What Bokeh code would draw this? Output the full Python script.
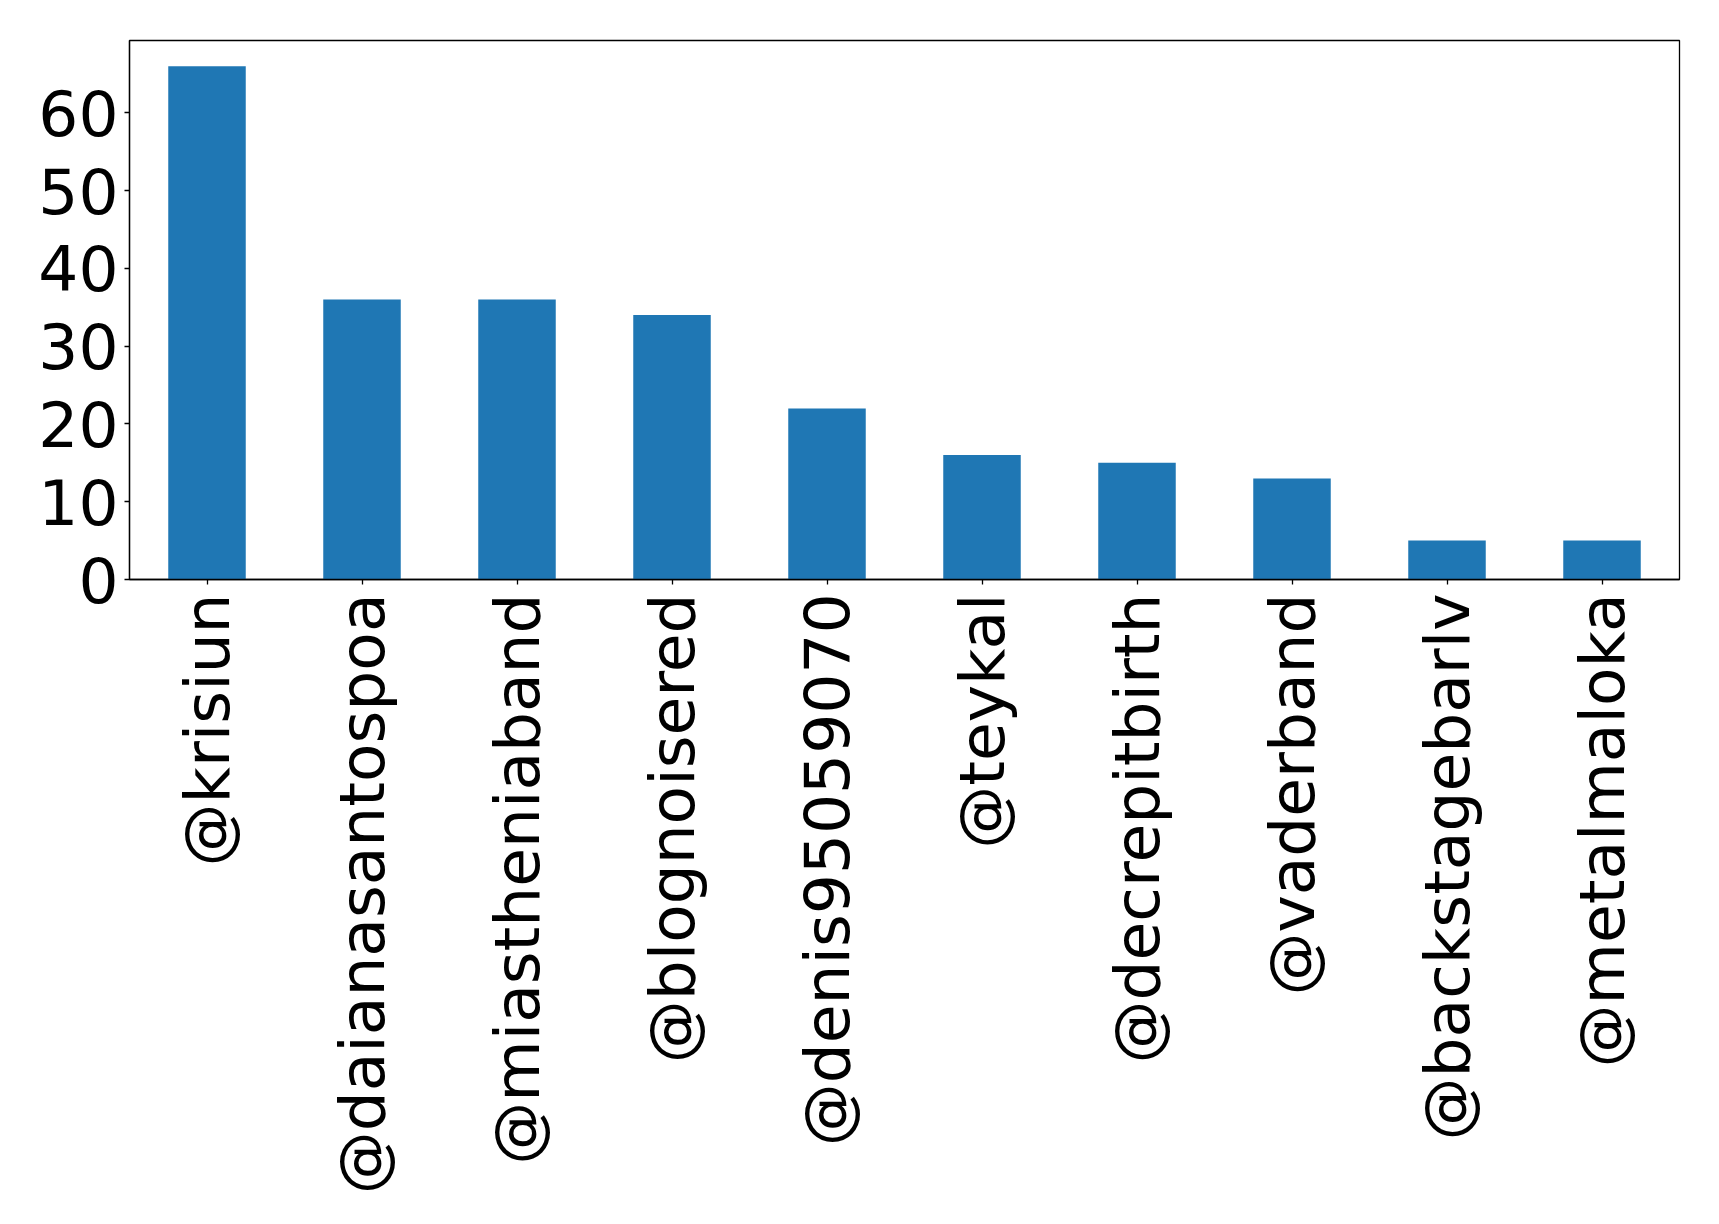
import math
from bokeh.plotting import figure
from bokeh.models import Range1d, FactorRange, SingleIntervalTicker, ColumnDataSource
from bokeh.embed import file_html
from bokeh.resources import INLINE

users = ["@krisiun", "@daianasantospoa", "@miastheniaband", "@blognoisered",
         "@denis95059070", "@teykal", "@decrepitbirth", "@vaderband",
         "@backstagebarlv", "@metalmaloka"]
counts = [66, 36, 36, 34, 22, 16, 15, 13, 5, 5]

src = ColumnDataSource(data=dict(user=users, count=counts))

p = figure(x_range=FactorRange(factors=users, range_padding=0),
           y_range=Range1d(0, 69.3),
           frame_width=1550, frame_height=539,
           min_border_left=129, min_border_top=40, min_border_right=30,
           min_border_bottom=0,
           output_backend="svg", toolbar_location=None)

p.vbar(x="user", top="count", width=0.5, source=src,
       fill_color="#1f77b4", line_color=None)

p.xgrid.visible = False
p.ygrid.visible = False
p.outline_line_color = "black"
p.outline_line_width = 1.3

p.yaxis.ticker = SingleIntervalTicker(interval=10)
for ax in (p.xaxis, p.yaxis):
    ax.axis_line_color = "black"
    ax.axis_line_width = 1.3
    ax.major_tick_line_color = "black"
    ax.major_tick_line_width = 1.3
    ax.major_tick_out = 5
    ax.major_tick_in = 0
    ax.minor_tick_line_color = None
    ax.major_label_text_font = "DejaVu Sans"
    ax.major_label_text_font_size = "63px"
    ax.major_label_text_color = "black"

p.yaxis.major_label_standoff = 6
p.xaxis.major_label_standoff = 9
p.xaxis.major_label_orientation = math.pi / 2

open("out.html", "w").write(file_html(p, INLINE))
